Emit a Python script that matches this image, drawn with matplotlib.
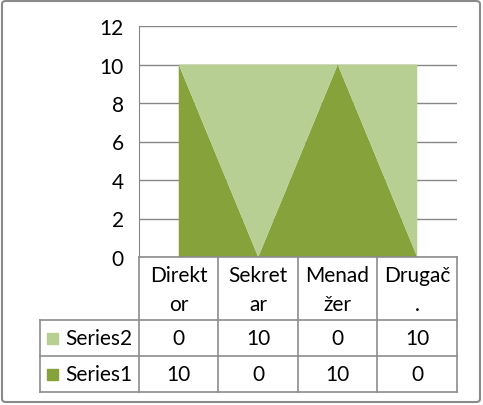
import matplotlib
matplotlib.use('Agg')
import matplotlib.pyplot as plt
from matplotlib.patches import FancyBboxPatch, Rectangle
from matplotlib.lines import Line2D

categories = ['Direktor', 'Sekretar', 'Menadžer', 'Drugač.']
header_labels = ['Direkt\nor', 'Sekret\nar', 'Menad\nžer', 'Drugač\n.']
series1 = [10, 0, 10, 0]
series2 = [0, 10, 0, 10]
series_names = ['Series1', 'Series2']
yticks = [0, 2, 4, 6, 8, 10, 12]

c_dark = '#86a33b'
c_light = '#b8cf94'
c_grid = '#878787'

W, H = 483, 406
fs = 15
plt.rcParams['font.family'] = ['Lato', 'DejaVu Sans']

fig = plt.figure(figsize=(W / 100, H / 100), dpi=100)


def fx(px):
    return px / W


def fy(py):
    return 1 - py / H


# plot area (pixels): x 139..457, y 27..258
left, right, top, bottom = 139, 457, 27, 258
ax = fig.add_axes([fx(left), fy(bottom), fx(right - left), fy(top) - fy(bottom)])
x = list(range(len(categories)))
ax.stackplot(x, series1, series2, colors=[c_dark, c_light], linewidth=0)
ax.set_xlim(-0.5, len(categories) - 0.5)
ax.set_ylim(0, 12)
ax.set_yticks(yticks)
ax.set_xticks([])
ax.yaxis.grid(True, color=c_grid, linewidth=1)
ax.set_axisbelow(True)
for s in ['top', 'right', 'bottom']:
    ax.spines[s].set_visible(False)
ax.spines['left'].set_color(c_grid)
ax.tick_params(axis='y', length=0, pad=11, labelsize=fs)

# data table below the plot
tab_left = 40
col_edges = [139, 218, 298, 377, 457]
row_edges = [258, 321, 357, 393]
lw = 1.2
tc = '#8c8c8c'


def hline(y, x0, x1):
    fig.add_artist(Line2D([fx(x0), fx(x1)], [fy(y), fy(y)], color=tc, lw=lw))


def vline(xp, y0, y1):
    fig.add_artist(Line2D([fx(xp), fx(xp)], [fy(y0), fy(y1)], color=tc, lw=lw))


hline(row_edges[0], col_edges[0], col_edges[-1])
for r in row_edges[1:]:
    hline(r, tab_left, col_edges[-1])
for c in col_edges:
    vline(c, row_edges[0], row_edges[-1])
vline(tab_left, row_edges[1], row_edges[-1])

for i, lab in enumerate(header_labels):
    cx = (col_edges[i] + col_edges[i + 1]) / 2
    fig.text(fx(cx), fy((row_edges[0] + row_edges[1]) / 2 + 1), lab, ha='center',
             va='center', fontsize=fs, linespacing=1.55)

rows = [(series_names[1], series2, c_light), (series_names[0], series1, c_dark)]
for j, (name, vals, col) in enumerate(rows):
    cy = (row_edges[j + 1] + row_edges[j + 2]) / 2
    fig.add_artist(Rectangle((fx(47), fy(cy + 5.5)), fx(11), fy(0) - fy(11), color=col,
                             transform=fig.transFigure))
    fig.text(fx(65), fy(cy), name, ha='left', va='center', fontsize=fs)
    for i, v in enumerate(vals):
        cx = (col_edges[i] + col_edges[i + 1]) / 2
        fig.text(fx(cx), fy(cy), str(v), ha='center', va='center', fontsize=fs)

# outer chart border
fig.add_artist(FancyBboxPatch((fx(2), fy(403)), fx(478), fy(2) - fy(403),
                              boxstyle='round,pad=0,rounding_size=0.008',
                              transform=fig.transFigure, fill=False,
                              edgecolor='#8a8a8a', linewidth=1.5))

fig.savefig('out.png', dpi=100)
